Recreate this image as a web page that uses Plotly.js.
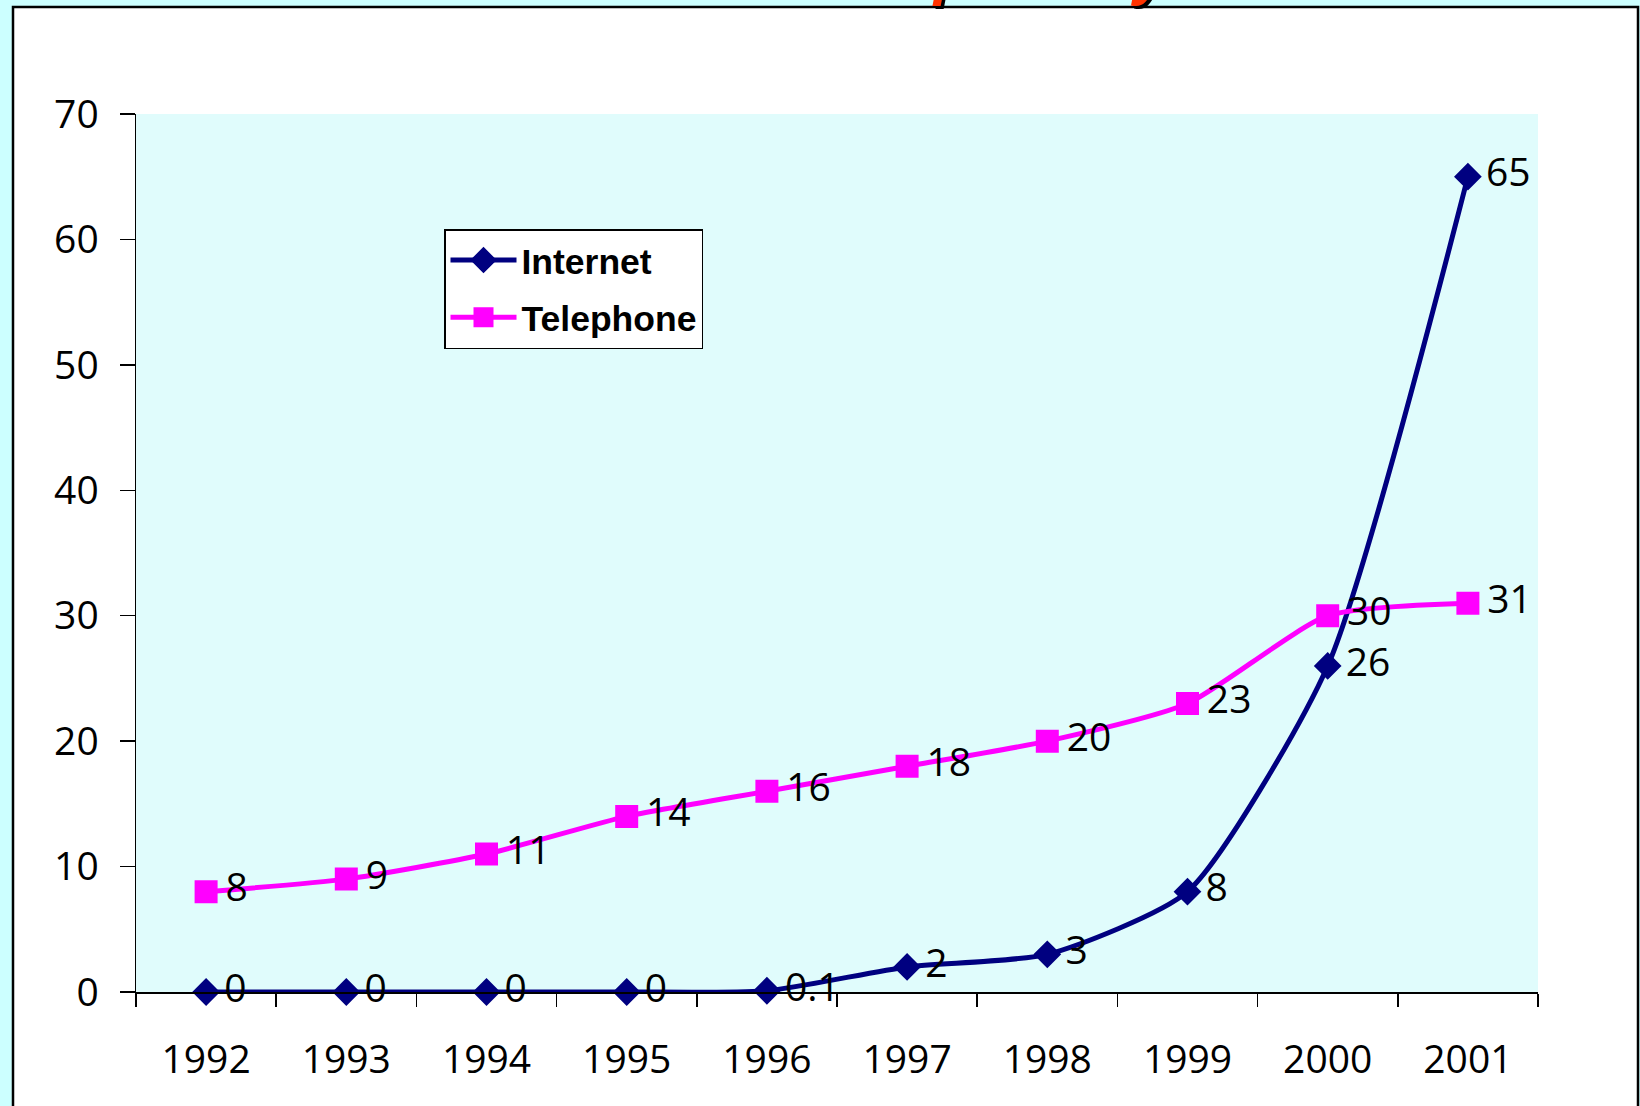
<!DOCTYPE html>
<html>
<head>
<meta charset="utf-8">
<script src="https://cdn.plot.ly/plotly-3.0.1.min.js"></script>
<style>html,body{margin:0;padding:0;background:#ccffff;}#chart{width:1640px;height:1106px;}</style>
</head>
<body>
<div id="chart"></div>
<script>
var years = ['1992','1993','1994','1995','1996','1997','1998','1999','2000','2001'];
var internetValues = [0, 0, 0, 0, 0.1, 2, 3, 8, 26, 65];
var telephoneValues = [8, 9, 11, 14, 16, 18, 20, 23, 30, 31];
var internetLabels = ['0','0','0','0','0.1','2','3','8','26','65'];
var telephoneLabels = ['8','9','11','14','16','18','20','23','30','31'];
var yTicks = [0, 10, 20, 30, 40, 50, 60, 70];
var titleText = 'Adoption by Year';

var W = 1640, H = 1106;
var mL = 136, mR = 102, mT = 114, mB = 114;
var pw = W - mL - mR, ph = H - mT - mB;
function px(x){ return (x - mL) / pw; }
function py(y){ return (H - mB - y) / ph; }

var tickFont = {family: 'Open Sans, Noto Sans, sans-serif', size: 39, color: '#000'};
function pad(a){ return a.map(function(s){ return '\u2009' + s; }); }

var traces = [
  {
    x: years, y: internetValues, name: 'Internet', type: 'scatter', mode: 'lines+markers+text',
    text: pad(internetLabels), textposition: 'middle right', textfont: tickFont,
    line: {color: '#000080', width: 5, shape: 'spline', smoothing: 0.6},
    marker: {symbol: 'diamond', size: 17, color: '#000080', line: {color: '#000080', width: 4}},
    cliponaxis: false, legendgroup: 'a', hoverinfo: 'skip'
  },
  {
    x: years, y: telephoneValues, name: 'Telephone', type: 'scatter', mode: 'lines+markers+text',
    text: pad(telephoneLabels), textposition: 'middle right', textfont: tickFont,
    line: {color: '#ff00ff', width: 5, shape: 'spline', smoothing: 0.6},
    marker: {symbol: 'square', size: 19, color: '#ff00ff', line: {color: '#ff00ff', width: 4}},
    cliponaxis: false, legendgroup: 'b', hoverinfo: 'skip'
  }
];

var layout = {
  width: W, height: H,
  margin: {l: mL, r: mR, t: mT, b: mB, pad: 0},
  paper_bgcolor: '#ccffff',
  plot_bgcolor: 'rgba(0,0,0,0)',
  showlegend: true,
  legend: {
    x: px(444), y: py(229), xanchor: 'left', yanchor: 'top',
    bgcolor: '#ffffff', bordercolor: '#000', borderwidth: 1.5,
    font: {family: 'Liberation Sans, Arial, sans-serif', size: 35.5, color: '#000', weight: 'bold'},
    tracegroupgap: 8, itemwidth: 66, traceorder: 'grouped'
  },
  xaxis: {
    type: 'category', range: [-0.5, 9.5], tickson: 'boundaries',
    ticks: 'outside', ticklen: 13, tickwidth: 1.5, tickcolor: '#000',
    showline: true, linecolor: '#000', linewidth: 1.5,
    showgrid: false, zeroline: false, tickfont: tickFont, ticklabelstandoff: 33,
    fixedrange: true
  },
  yaxis: {
    range: [0, 70], tickvals: yTicks, ticktext: yTicks.map(String),
    ticks: 'outside', ticklen: 15, tickwidth: 1.5, tickcolor: '#000',
    showline: true, linecolor: '#000', linewidth: 1.5,
    showgrid: false, zeroline: false, tickfont: tickFont, ticklabelstandoff: 13,
    fixedrange: true
  },
  shapes: [
    {type: 'rect', xref: 'paper', yref: 'paper', layer: 'below',
     x0: px(13), x1: px(1638), y0: py(1130), y1: py(7),
     fillcolor: '#ffffff', line: {color: '#000', width: 2.5}},
    {type: 'rect', xref: 'paper', yref: 'paper', layer: 'below',
     x0: 0, x1: 1, y0: 0, y1: 1, fillcolor: '#e0fcfc', line: {width: 0}}
  ],
  annotations: [
    {xref: 'paper', yref: 'paper', x: px(813), y: py(9), xanchor: 'left', yanchor: 'bottom',
     showarrow: false, text: '<b><i>' + titleText + '</i></b>',
     font: {family: 'Liberation Sans, Arial, sans-serif', size: 60, color: '#ff3300', shadow: '3px 3px 0px #000'}}
  ]
};

Plotly.newPlot('chart', traces, layout, {displayModeBar: false, staticPlot: true});
</script>
</body>
</html>
